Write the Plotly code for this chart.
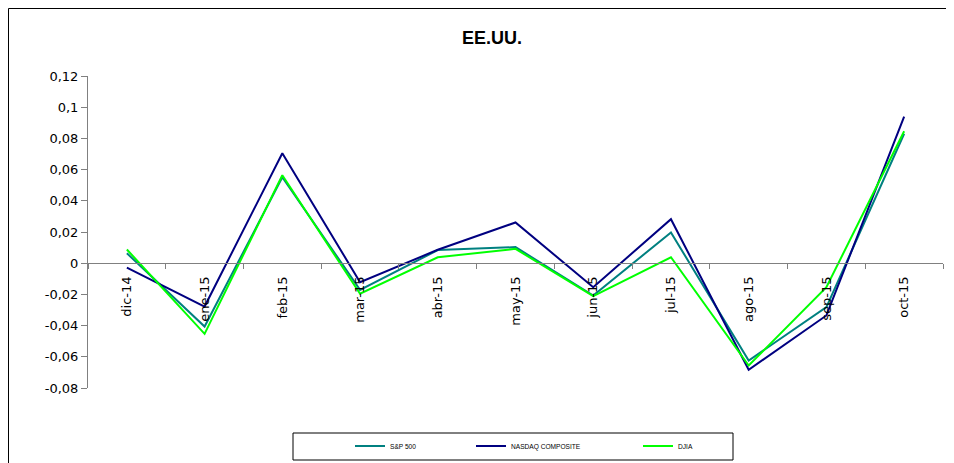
import plotly.graph_objects as go

categories = ["dic-14", "ene-15", "feb-15", "mar-15", "abr-15", "may-15",
              "jun-15", "jul-15", "ago-15", "sep-15", "oct-15"]
sp500 = [0.0064, -0.0406, 0.0551, -0.0171, 0.0084, 0.0103,
         -0.0207, 0.0197, -0.0624, -0.0282, 0.0830]
nasdaq = [-0.0028, -0.0278, 0.0705, -0.0122, 0.0086, 0.0261,
          -0.0154, 0.0282, -0.0683, -0.0335, 0.0940]
djia = [0.0088, -0.0453, 0.0564, -0.0196, 0.0038, 0.0092,
        -0.0211, 0.0038, -0.0656, -0.0154, 0.0846]
y_tickvals = [-0.08, -0.06, -0.04, -0.02, 0, 0.02, 0.04, 0.06, 0.08, 0.1, 0.12]
y_ticktext = ["-0,08", "-0,06", "-0,04", "-0,02", "0", "0,02", "0,04",
              "0,06", "0,08", "0,1", "0,12"]

AXFONT = "DejaVu Sans, sans-serif"
FONT = "Liberation Sans, Arial, sans-serif"
OFF = 8  # page body margin
W, H = 954 - OFF, 463 - OFF
L = 88 - OFF
T = 76 - OFF
plot_right = 943 - OFF
plot_bottom = 388 - OFF
R = W - plot_right
B = H - plot_bottom
ymin, ymax = -0.08, 0.12
plot_w = W - L - R
plot_h = H - T - B


def px_x(p):
    return (p - OFF - L) / plot_w


def px_y(p):
    return (H - B - (p - OFF)) / plot_h


fig = go.Figure()
fig.add_trace(go.Scatter(x=categories, y=sp500, name="S&P 500", mode="lines",
                         line=dict(color="#008080", width=2), legend="legend"))
fig.add_trace(go.Scatter(x=categories, y=nasdaq, name="NASDAQ COMPOSITE", mode="lines",
                         line=dict(color="#000080", width=2), legend="legend2"))
fig.add_trace(go.Scatter(x=categories, y=djia, name="DJIA", mode="lines",
                         line=dict(color="#00FF00", width=2), legend="legend3"))

zero_pos = (0 - ymin) / (ymax - ymin)


def leg(xpage):
    return dict(orientation="h", x=px_x(xpage), xanchor="left",
                y=px_y(446), yanchor="middle",
                font=dict(family=FONT, size=6.6, color="black"),
                bgcolor="rgba(0,0,0,0)", borderwidth=0)


fig.update_layout(
    width=W, height=H,
    margin=dict(l=L, r=R, t=T, b=B, autoexpand=False),
    paper_bgcolor="white", plot_bgcolor="white",
    font=dict(family=AXFONT, size=13, color="black"),
    title=dict(text="<b>EE.UU.</b>", x=(492 - OFF) / W, xref="container", xanchor="center",
               y=1 - (38 - OFF) / H, yref="container", yanchor="middle",
               font=dict(family=FONT, size=18, color="black")),
    xaxis=dict(type="category", range=[-0.5, len(categories) - 0.5],
               anchor="free", position=zero_pos,
               showline=True, linecolor="#808080", linewidth=1,
               ticks="outside", ticklen=5, tickcolor="#808080", tickson="boundaries",
               tickangle=-90, showgrid=False, zeroline=False, ticklabelstandoff=7,
               tickfont=dict(family=AXFONT, size=13, color="black")),
    yaxis=dict(range=[ymin, ymax], tickvals=y_tickvals, ticktext=y_ticktext,
               showline=True, linecolor="#808080", linewidth=1,
               ticks="outside", ticklen=6, tickcolor="#808080",
               showgrid=False, zeroline=False,
               tickfont=dict(family=AXFONT, size=13, color="black")),
    showlegend=True,
    legend=leg(350),
    legend2=leg(471),
    legend3=leg(638),
    shapes=[
        dict(type="rect", xref="paper", yref="paper",
             x0=px_x(OFF + 0.5), x1=px_x(W + 40), y0=px_y(H + 40), y1=px_y(OFF + 0.5),
             line=dict(color="black", width=1), fillcolor="rgba(0,0,0,0)", layer="below"),
        dict(type="rect", xref="paper", yref="paper",
             x0=px_x(293), x1=px_x(733), y0=px_y(460), y1=px_y(433),
             line=dict(color="black", width=1), fillcolor="rgba(0,0,0,0)", layer="below"),
    ],
)

fig.write_html("out.html")
